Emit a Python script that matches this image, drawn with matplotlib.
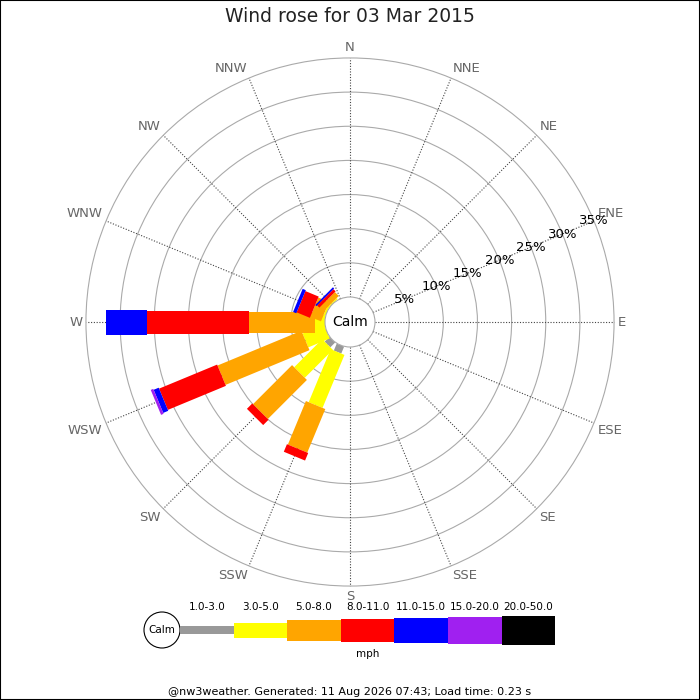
import numpy as np
import matplotlib
matplotlib.use("Agg")
import matplotlib.pyplot as plt
from matplotlib.patches import Polygon, Circle, Rectangle

# ---- data ----
directions = ['N', 'NNE', 'NE', 'ENE', 'E', 'ESE', 'SE', 'SSE',
              'S', 'SSW', 'SW', 'WSW', 'W', 'WNW', 'NW', 'NNW']
speed_bins = ['1.0-3.0', '3.0-5.0', '5.0-8.0', '8.0-11.0',
              '11.0-15.0', '15.0-20.0', '20.0-50.0']
bin_colors = ['#999999', '#ffff00', '#ffa500', '#ff0000',
              '#0000ff', '#a020f0', '#000000']
# frequency (%) per direction per speed bin
freq = {
    'SSW': [1.1, 8.4, 6.9, 1.2, 0.0, 0.0, 0.0],
    'SW':  [1.0, 5.8, 8.1, 1.1, 0.0, 0.0, 0.0],
    'WSW': [0.0, 3.4, 13.3, 9.2, 0.8, 0.4, 0.0],
    'W':   [0.0, 1.4, 9.8, 14.8, 6.0, 0.0, 0.0],
    'WNW': [0.0, 0.3, 1.7, 2.1, 0.5, 0.0, 0.0],
    'NW':  [0.0, 0.2, 0.8, 0.45, 0.25, 0.0, 0.0],
}
ring_values = [5, 10, 15, 20, 25, 30, 35]
title = 'Wind rose for 03 Mar 2015'
units = 'mph'
footer = '@nw3weather. Generated: 11 Aug 2026 07:43; Load time: 0.23 s'

# ---- layout / style ----
W_PX, H_PX = 700, 700
S = 6.83            # pixels per percent
CX, CY = 350, 322   # rose centre in pixels (from top-left)
CALM_R = 25 / S     # calm circle radius in percent units
bar_w_px = [8, 15, 21, 23, 25, 27, 29]

fig = plt.figure(figsize=(7, 7), dpi=100)
fig.patch.set_facecolor('white')

ax = fig.add_axes([0, 0, 1, 1])
ax.set_xlim(-CX / S, (W_PX - CX) / S)
ax.set_ylim(-(H_PX - CY) / S, CY / S)
ax.axis('off')

outer = CALM_R + ring_values[-1]
# rings
for rv in ring_values:
    ax.add_patch(Circle((0, 0), CALM_R + rv, fill=False, edgecolor='#aaaaaa',
                        linewidth=0.8, zorder=1))
# spokes + direction labels
for i, d in enumerate(directions):
    th = np.deg2rad(i * 22.5)
    ux, uy = np.sin(th), np.cos(th)
    ax.plot([CALM_R * ux, outer * ux], [CALM_R * uy, outer * uy],
            color='#444444', linewidth=0.8, linestyle=(0, (1, 1.5)), zorder=1)
    ha = 'left' if ux > 0.1 else ('right' if ux < -0.1 else 'center')
    va = 'bottom' if uy > 0.1 else ('top' if uy < -0.1 else 'center')
    rl = outer + 0.55
    ax.text(rl * ux, rl * uy, d, ha=ha, va=va, fontsize=9.5, color='#666666',
            zorder=5)

# bars
for i, d in enumerate(directions):
    if d not in freq:
        continue
    th = np.deg2rad(i * 22.5)
    u = np.array([np.sin(th), np.cos(th)])
    n = np.array([np.cos(th), -np.sin(th)])
    r_in = CALM_R
    for k, v in enumerate(freq[d]):
        if v <= 0:
            continue
        r_out = r_in + v
        hw = bar_w_px[k] / S / 2
        pts = [r_in * u + hw * n, r_out * u + hw * n,
               r_out * u - hw * n, r_in * u - hw * n]
        ax.add_patch(Polygon(pts, closed=True, facecolor=bin_colors[k],
                             edgecolor='none', zorder=3))
        r_in = r_out

# calm circle
ax.add_patch(Circle((0, 0), CALM_R, facecolor='white', edgecolor='#aaaaaa',
                    linewidth=0.8, zorder=4))
ax.text(0, 0, 'Calm', ha='center', va='center', fontsize=10, color='black',
        zorder=5)

# ring labels along ENE
ang = np.deg2rad(67.5)
for rv in ring_values:
    r = CALM_R + rv
    ax.text(r * np.sin(ang), r * np.cos(ang), f'{rv}%', ha='center',
            va='center', fontsize=9.5, color='black', zorder=6)

# ---- legend in pixel coordinates ----
lax = fig.add_axes([0, 0, 1, 1])
lax.set_xlim(0, W_PX)
lax.set_ylim(H_PX, 0)
lax.axis('off')
lax.patch.set_alpha(0)

LCX, LCY, LR = 162, 630, 18
lax.add_patch(Circle((LCX, LCY), LR, facecolor='white', edgecolor='black',
                     linewidth=0.8))
lax.text(LCX, LCY, 'Calm', ha='center', va='center', fontsize=7.5)
seg_w = 53.6
x0 = LCX + LR
for k, lab in enumerate(speed_bins):
    h = bar_w_px[k]
    lax.add_patch(Rectangle((x0 + k * seg_w, LCY - h / 2), seg_w, h,
                            facecolor=bin_colors[k], edgecolor='none'))
    lax.text(x0 + (k + 0.5) * seg_w, 607, lab, ha='center', va='center',
             fontsize=7.5)
lax.text(x0 + len(speed_bins) * seg_w / 2, 654, units, ha='center',
         va='center', fontsize=7.5)

fig.text(0.5, 1 - 17 / H_PX, title, ha='center', va='center', fontsize=13.5,
         color='#222222')
fig.text(0.5, 1 - 692 / H_PX, footer, ha='center', va='center', fontsize=8,
         color='black')
fig.patches.append(Rectangle((0, 0), 1, 1, transform=fig.transFigure,
                             fill=False, edgecolor='black', linewidth=1.5))

fig.savefig('out.png', dpi=100)
